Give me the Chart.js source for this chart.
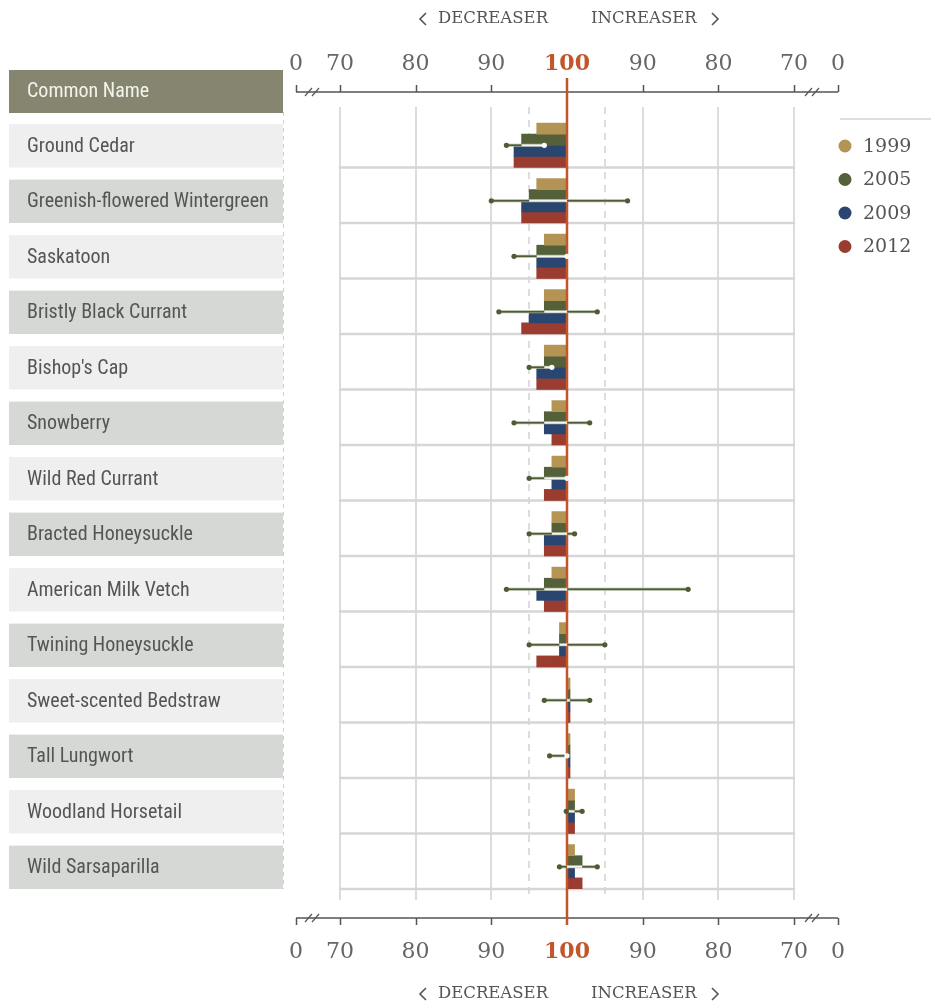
<!DOCTYPE html>
<html>
<head>
<meta charset="utf-8">
<title>Understory species index</title>
<script src="https://cdn.jsdelivr.net/npm/chart.js@4.4.1/dist/chart.umd.min.js"></script>
<style>
  html, body { margin: 0; padding: 0; background: #fff; }
  canvas { display: block; }
</style>
</head>
<body>
<canvas id="chart" width="931" height="1005"></canvas>
<script>
// data (index, 100 = no change)
var categories = [
    'Ground Cedar',
    'Greenish-flowered Wintergreen',
    'Saskatoon',
    'Bristly Black Currant',
    "Bishop's Cap",
    'Snowberry',
    'Wild Red Currant',
    'Bracted Honeysuckle',
    'American Milk Vetch',
    'Twining Honeysuckle',
    'Sweet-scented Bedstraw',
    'Tall Lungwort',
    'Woodland Horsetail',
    'Wild Sarsaparilla'
];
var years = ['1999', '2005', '2009', '2012'];
var values1999 = [96, 96, 97, 97, 97, 98, 98, 98, 98, 99, 100.4, 100.4, 101, 101];
var values2005 = [94, 95, 96, 97, 97, 97, 97, 98, 97, 99, 100.4, 100.4, 101, 102];
var values2009 = [93, 94, 96, 95, 96, 97, 98, 97, 96, 99, 100.4, 100.4, 101, 101];
var values2012 = [93, 94, 96, 94, 96, 98, 97, 97, 97, 96, 100.4, 100.4, 101, 102];
var errLow = [92, 90, 93, 91, 95, 93, 95, 95, 92, 95, 97, 97.7, 99.9, 99];
var errHigh = [97, 108, 100, 104, 98, 103, 100, 101, 116, 105, 103, 100, 102, 104];
var tickValues = [70, 80, 90, 100, 110, 120, 130];
var tickLabels = ['0', '70', '80', '90', '100', '90', '80', '70', '0'];
var xMin = 64.2;
var xMax = 135.8;

var yearColors = ['#b39455', '#53603a', '#2a4670', '#9a3c30'];
var orange = '#c1562a';
var serif = '"DejaVu Serif", Georgia, serif';
var narrow = '"Liberation Sans Narrow", "Arial Narrow", "Roboto Condensed", sans-serif';

var allValues = [values1999, values2005, values2009, values2012];

function chevron(ctx, x, y, dir) {
    ctx.beginPath();
    ctx.moveTo(x + 5 * dir, y - 6);
    ctx.lineTo(x - 1 * dir, y);
    ctx.lineTo(x + 5 * dir, y + 6);
    ctx.stroke();
}

function drawAxisLine(ctx, xs, y, dir) {
    var left = xs.getPixelForValue(xMin);
    var right = xs.getPixelForValue(xMax);
    ctx.save();
    ctx.strokeStyle = '#555';
    ctx.lineWidth = 1.5;
    ctx.beginPath();
    ctx.moveTo(left, y);
    ctx.lineTo(right, y);
    [xMin].concat(tickValues, [xMax]).forEach(function (v) {
        var px = Math.round(xs.getPixelForValue(v)) + 0.5;
        if (v === 100) return;
        ctx.moveTo(px, y);
        ctx.lineTo(px, y + 7 * dir);
    });
    ctx.stroke();
    // axis breaks
    ctx.lineWidth = 1.2;
    [left + 12, left + 19, right - 30, right - 23].forEach(function (bx) {
        ctx.beginPath();
        ctx.moveTo(bx - 3, y + 4);
        ctx.lineTo(bx + 4, y - 4);
        ctx.stroke();
    });
    ctx.restore();
}

function drawDirections(ctx, y) {
    ctx.save();
    ctx.fillStyle = '#555';
    ctx.strokeStyle = '#555';
    ctx.lineWidth = 1.6;
    ctx.font = '16.5px ' + serif;
    ctx.textBaseline = 'middle';
    ctx.textAlign = 'left';
    ctx.fillText('DECREASER', 438, y);
    ctx.fillText('INCREASER', 591, y);
    chevron(ctx, 421, y, 1);
    chevron(ctx, 717, y, -1);
    ctx.restore();
}

var decorations = {
    id: 'decorations',
    beforeDraw: function (chart) {
        var ctx = chart.ctx;
        var xs = chart.scales.x;
        var ys = chart.scales.y;
        var area = chart.chartArea;
        var top = area.top - 5, bottom = area.bottom + 11;

        ctx.save();
        // faint dashed guide next to the labels
        ctx.strokeStyle = '#d0d0d0';
        ctx.lineWidth = 1;
        ctx.setLineDash([4, 4]);
        ctx.beginPath();
        ctx.moveTo(283.5, area.top);
        ctx.lineTo(283.5, area.bottom);
        ctx.stroke();
        ctx.setLineDash([]);

        // header box
        ctx.fillStyle = '#868670';
        ctx.fillRect(9, 70, 274, 43);
        ctx.fillStyle = '#f4f4ec';
        ctx.font = '20px ' + narrow;
        ctx.textBaseline = 'middle';
        ctx.fillText('Common Name', 27, 92);

        // label boxes aligned to the bar groups
        var first = chart.getDatasetMeta(1);
        var last = chart.getDatasetMeta(4);
        categories.forEach(function (c, i) {
            var b1 = first.data[i], b4 = last.data[i];
            var t = b1.y - b1.height / 2 + 1;
            var b = b4.y + b4.height / 2;
            ctx.fillStyle = i % 2 === 0 ? '#efefef' : '#d5d8d5';
            ctx.fillRect(9, t, 274, b - t);
        });

        // vertical grid
        ctx.strokeStyle = '#dcdcdc';
        ctx.lineWidth = 2;
        tickValues.forEach(function (v) {
            if (v === 100) return;
            var px = Math.round(xs.getPixelForValue(v));
            ctx.beginPath();
            ctx.moveTo(px, top);
            ctx.lineTo(px, bottom);
            ctx.stroke();
        });
        ctx.strokeStyle = '#d2d2d2';
        ctx.lineWidth = 1.5;
        ctx.setLineDash([7, 6]);
        [95, 105].forEach(function (v) {
            var px = Math.round(xs.getPixelForValue(v));
            ctx.beginPath();
            ctx.moveTo(px, top);
            ctx.lineTo(px, bottom);
            ctx.stroke();
        });
        ctx.setLineDash([]);

        // row separators
        var band = ys.getPixelForValue(1) - ys.getPixelForValue(0);
        ctx.strokeStyle = '#d6d6d6';
        ctx.lineWidth = 2.5;
        categories.forEach(function (c, i) {
            var yy = ys.getPixelForValue(i) + band / 2;
            ctx.beginPath();
            ctx.moveTo(xs.getPixelForValue(70) - 1, yy);
            ctx.lineTo(xs.getPixelForValue(130) + 1, yy);
            ctx.stroke();
        });

        // axes
        drawAxisLine(ctx, xs, 92, -1);
        drawAxisLine(ctx, xs, 918, 1);
        drawDirections(ctx, 19);
        drawDirections(ctx, 994);

        // legend
        ctx.strokeStyle = '#dedede';
        ctx.lineWidth = 2;
        ctx.beginPath();
        ctx.moveTo(840, 119);
        ctx.lineTo(931, 119);
        ctx.stroke();
        ctx.font = '19px ' + serif;
        ctx.textAlign = 'left';
        ctx.textBaseline = 'middle';
        years.forEach(function (yr, k) {
            var ly = 146 + k * 33.5;
            ctx.fillStyle = yearColors[k];
            ctx.beginPath();
            ctx.arc(845, ly, 6.5, 0, Math.PI * 2);
            ctx.fill();
            ctx.fillStyle = '#555';
            ctx.fillText(yr, 863, ly + 1);
        });
        ctx.restore();
    },
    afterDatasetsDraw: function (chart) {
        var ctx = chart.ctx;
        var xs = chart.scales.x;
        var p100 = xs.getPixelForValue(100);
        ctx.save();
        // the 100 line
        ctx.strokeStyle = orange;
        ctx.lineWidth = 2.5;
        ctx.beginPath();
        ctx.moveTo(p100, 78);
        ctx.lineTo(p100, 925);
        ctx.stroke();

        // ranges, drawn between the 2005 and 2009 bars
        var m05 = chart.getDatasetMeta(2);
        var m09 = chart.getDatasetMeta(3);
        categories.forEach(function (c, i) {
            var yy = (m05.data[i].y + m09.data[i].y) / 2;
            var lo = xs.getPixelForValue(errLow[i]);
            var hi = xs.getPixelForValue(errHigh[i]);
            var b0 = Math.min(p100, xs.getPixelForValue(values2005[i]));
            var b1 = Math.max(p100, xs.getPixelForValue(values2005[i]));
            ctx.strokeStyle = '#a9b29a';
            ctx.lineWidth = 3;
            ctx.beginPath();
            ctx.moveTo(lo, yy);
            ctx.lineTo(hi, yy);
            ctx.stroke();
            ctx.strokeStyle = '#4f5b35';
            ctx.lineWidth = 1.5;
            ctx.beginPath();
            ctx.moveTo(lo, yy);
            ctx.lineTo(hi, yy);
            ctx.stroke();
            var s0 = Math.max(lo, b0), s1 = Math.min(hi, b1);
            if (s1 > s0) {
                ctx.strokeStyle = '#f4f4f0';
                ctx.lineWidth = 2;
                ctx.beginPath();
                ctx.moveTo(s0, yy);
                ctx.lineTo(s1, yy);
                ctx.stroke();
            }
            [lo, hi].forEach(function (px) {
                var inside = px >= b0 - 0.5 && px <= b1 + 0.5;
                ctx.fillStyle = inside ? '#ffffff' : '#4f5b35';
                ctx.beginPath();
                ctx.arc(px, yy, 2.6, 0, Math.PI * 2);
                ctx.fill();
            });
        });
        ctx.restore();
    }
};

function xAxis(position, pad, height) {
    return {
        type: 'linear',
        position: position,
        min: xMin,
        max: xMax,
        grid: { display: false, drawTicks: false },
        border: { display: false },
        afterBuildTicks: function (scale) {
            scale.ticks = [xMin].concat(tickValues, [xMax]).map(function (v) {
                return { value: v };
            });
        },
        afterFit: function (scale) {
            scale.height = height;
        },
        ticks: {
            autoSkip: false,
            maxRotation: 0,
            padding: pad,
            callback: function (v, i) { return tickLabels[i]; },
            color: function (c) { return c.tick && c.tick.value === 100 ? orange : '#666'; },
            font: function (c) {
                return c.tick && c.tick.value === 100
                    ? { family: serif, size: 22, weight: 'bold' }
                    : { family: serif, size: 22 };
            }
        }
    };
}

var datasets = [{ label: '', data: categories.map(function () { return null; }) }];
years.forEach(function (yr, k) {
    datasets.push({
        label: yr,
        data: allValues[k],
        backgroundColor: yearColors[k],
        borderWidth: 0
    });
});

new Chart(document.getElementById('chart').getContext('2d'), {
    type: 'bar',
    data: { labels: categories, datasets: datasets },
    options: {
        responsive: false,
        animation: false,
        indexAxis: 'y',
        datasets: {
            bar: { base: 100, categoryPercentage: 1, barPercentage: 1 }
        },
        layout: { padding: { left: 27, right: 93, top: 0, bottom: 0 } },
        plugins: {
            legend: { display: false },
            tooltip: { enabled: false }
        },
        scales: {
            x: xAxis('top', 35, 112),
            x2: xAxis('bottom', 50, 116),
            y: {
                type: 'category',
                offset: true,
                grid: { display: false, drawTicks: false },
                border: { display: false },
                afterFit: function (scale) {
                    scale.width = 269;
                },
                ticks: {
                    crossAlign: 'far',
                    padding: 0,
                    labelOffset: 7,
                    color: '#555',
                    font: { family: narrow, size: 20 }
                }
            }
        }
    },
    plugins: [decorations]
});
</script>
</body>
</html>
